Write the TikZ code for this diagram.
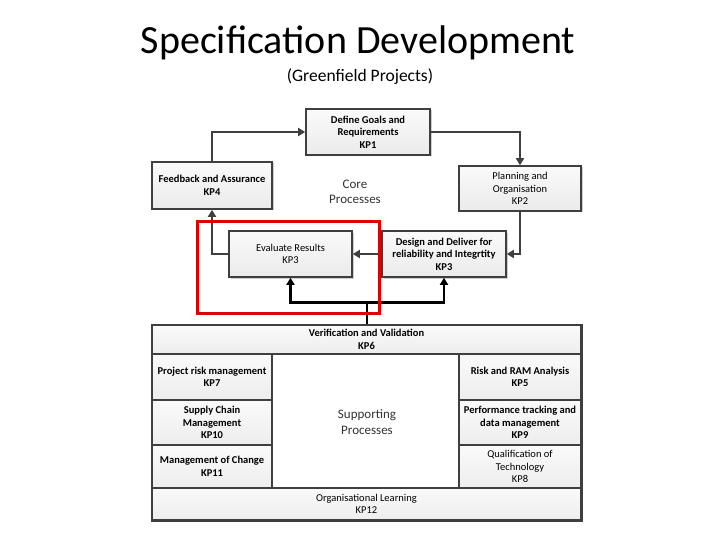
\documentclass[tikz,border=0pt]{standalone}
\usepackage{fontspec}
\setmainfont{Carlito}
\usetikzlibrary{arrows.meta,shadows}
\definecolor{edge}{HTML}{3F3F3F}
\definecolor{hlred}{HTML}{E00000}
\tikzset{
  box/.style={draw=edge, line width=1.6pt, top color=gray!4, bottom color=gray!16,
    align=center, inner sep=1pt, font=\fontsize{10.5}{12.6}\selectfont\bfseries,
    drop shadow={shadow xshift=1.5pt, shadow yshift=-1.5pt, fill=gray!55, opacity=0.7}},
  cell/.style={draw=edge, line width=1.4pt, top color=gray!4, bottom color=gray!14,
    align=center, inner sep=1pt, font=\fontsize{10.5}{12.6}\selectfont\bfseries},
  reg/.style={font=\fontsize{10.5}{12.6}\selectfont},
  arr/.style={draw=edge, line width=2.6pt, -{Triangle[width=8pt,length=7pt]}},
  blkarr/.style={draw=black, line width=2.8pt, -{Triangle[width=8pt,length=7pt]}},
  big/.style={font=\fontsize{13}{15.5}\selectfont, align=center, text=black!80}
}
\begin{document}
\begin{tikzpicture}[x=1pt,y=-1pt]
\useasboundingbox (0,0) rectangle (720,540);
% titles
\node[font=\fontsize{40}{44}\selectfont] (title) at (358,43) {Specification Development};
\node[font=\fontsize{17.5}{20}\selectfont] (sub) at (360,77) {(Greenfield Projects)};
% core boxes
\node[box, minimum width=124pt, minimum height=46pt] (kp1) at (368,132) {Define Goals and\\Requirements\\KP1};
\node[box, minimum width=120pt, minimum height=47pt] (kp4) at (212,185.5) {Feedback and Assurance\\KP4};
\node[box, reg, minimum width=122pt, minimum height=45pt] (kp2) at (520,188.5) {Planning and\\Organisation\\KP2};
\node[big] (core) at (355,192) {Core\\Processes};
\node[box, reg, minimum width=123pt, minimum height=46pt] (eval) at (290.5,254) {Evaluate Results\\KP3};
\node[box, minimum width=124pt, minimum height=46pt] (dsgn) at (444,254) {Design and Deliver for\\reliability and Integrtity\\KP3};
% supporting block
\node[cell, minimum width=429pt, minimum height=29pt] (kp6) at (366.5,339.5) {Verification and Validation\\KP6};
\node[cell, minimum width=120pt, minimum height=46pt] (kp7) at (212,377) {Project risk management\\KP7};
\node[cell, minimum width=120pt, minimum height=45pt] (kp10) at (212,422.5) {Supply Chain\\Management\\KP10};
\node[cell, minimum width=120pt, minimum height=43pt] (kp11) at (212,466.5) {Management of Change\\KP11};
\node[draw=edge, line width=1.4pt, fill=white, minimum width=187pt, minimum height=134pt] (mid) at (365.5,421) {};
\node[big] (supp) at (367,422) {Supporting\\Processes};
\node[cell, minimum width=122pt, minimum height=46pt] (kp5) at (520,377) {Risk and RAM Analysis\\KP5};
\node[cell, minimum width=122pt, minimum height=45pt] (kp9) at (520,422.5) {Performance tracking and\\data management\\KP9};
\node[cell, reg, minimum width=122pt, minimum height=43pt] (kp8) at (520,466.5) {Qualification of\\Technology\\KP8};
\node[cell, reg, minimum width=429pt, minimum height=32pt] (kp12) at (366.5,504) {Organisational Learning\\KP12};
\draw[draw=edge, line width=1.6pt] (kp6.north west) rectangle (kp12.south east);
% core arrows
\draw[arr] (kp4.north) |- (kp1.west);
\draw[arr] (kp1.east) -| (kp2.north);
\draw[arr] (kp2.south) |- (dsgn.east);
\draw[arr] (dsgn.west) -- (eval.east);
\draw[arr] (eval.west) -| (kp4.south);
% support arrows
\path (kp6.north) ++(0,-22) coordinate (jn);
\draw[black, line width=2pt] (kp6.north) -- (jn);
\draw[blkarr] (jn) -| (eval.south);
\draw[blkarr] (jn) -| (dsgn.south);
% highlight
\node[draw=hlred, line width=3pt, minimum width=182pt, minimum height=91pt] (hl) at (288,267.5) {};
\end{tikzpicture}
\end{document}
